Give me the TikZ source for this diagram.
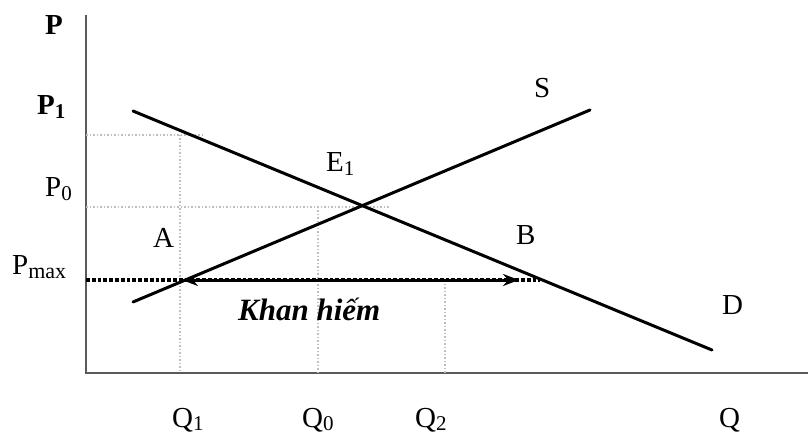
\documentclass[tikz,border=0pt]{standalone}
\usepackage{fontspec}
\setmainfont{Liberation Serif}
\usepackage{tikz}
\usetikzlibrary{arrows.meta,calc,positioning}
\definecolor{axis}{HTML}{5A5A5A}
\definecolor{guide}{HTML}{BEBEBE}
\newcommand{\lowsub}[1]{\raisebox{-0.28ex}{\fontsize{21}{21}\selectfont #1}}

\begin{document}
\begin{tikzpicture}[x=1pt,y=-1pt,>=Stealth,
  lbl/.style={anchor=base west,inner sep=0pt,font=\fontsize{29}{30}\selectfont},
  guideline/.style={guide,line width=1.5pt,dotted},
  curve/.style={line width=3pt,line cap=round}]
\useasboundingbox (0,0) rectangle (808,438);
% axes
\coordinate (O) at (86,373);
\coordinate (ytop) at (86,15);
\coordinate (xend) at (808,373);
\draw[axis,line width=2.8pt] (ytop) -- (O) -- (xend);
% guide lines
\draw[guideline] (86,135) -- (205,135);
\draw[guideline] (86,207) -- (390,207);
\foreach \x/\ytop in {180/135,318/207,445/280} {\draw[guideline] (\x,\ytop) -- (\x,373);}
% demand and supply
\coordinate (d1) at (133,111);
\coordinate (d2) at (712,350);
\coordinate (s1) at (133,302);
\coordinate (s2) at (590,110);
\draw[curve] (d1) -- (d2);
\draw[curve] (s1) -- (s2);
% price ceiling
\coordinate (pm0) at (86,280);
\coordinate (pm1) at (540,280);
\coordinate (qa) at (182,280);
\coordinate (qb) at (519,280);
\draw[line width=3.8pt,dotted] (pm0) -- (pm1);
\draw[line width=3pt,arrows={Stealth[length=16pt,width=12pt]-Stealth[length=16pt,width=12pt]}] (qa) -- (qb);
% labels
\node[lbl,font=\fontsize{29}{30}\selectfont\bfseries] (p) at (45,35) {P};
\node[lbl,font=\fontsize{29}{30}\selectfont\bfseries] (p1) at (37,115) {P\lowsub{1}};
\node[lbl] (p0) at (45,197) {P\lowsub{0}};
\node[lbl] (pmax) at (12,275) {P\lowsub{\fontsize{22}{22}\selectfont max}};
\node[lbl] (a) at (153,248) {A};
\node[lbl] (b) at (516,245) {B};
\node[lbl] (e1) at (326,172) {E\lowsub{1}};
\node[lbl] (s) at (534,98) {S};
\node[lbl] (d) at (722,314) {D};
\node[lbl,font=\fontsize{31}{32}\selectfont\bfseries\itshape] (short) at (238,320) {Khan hiếm};
\foreach \q/\x in {Q\lowsub{1}/172,Q\lowsub{0}/302,Q\lowsub{2}/415,Q/719} {\node[lbl] (q\x) at (\x,427) {\q};}
\end{tikzpicture}
\end{document}
